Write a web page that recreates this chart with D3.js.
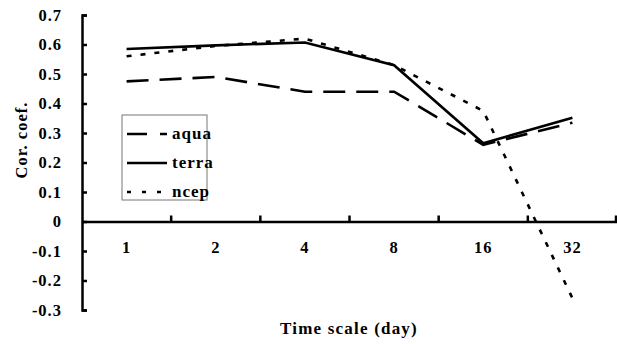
<!DOCTYPE html>
<html><head><meta charset="utf-8">
<script src="https://cdn.jsdelivr.net/npm/d3@7/dist/d3.min.js"></script>
<style>body{margin:0;background:#fff}svg{display:block}text{font-family:"Liberation Serif","Times New Roman",serif;font-weight:bold;fill:#000}</style>
</head><body><svg id="c" width="617" height="344"></svg>
<script>
const categories = ["1","2","4","8","16","32"];
const aqua  = [0.475, 0.49, 0.44, 0.44, 0.26, 0.335];
const terra = [0.585, 0.597, 0.607, 0.53, 0.265, 0.352];
const ncep  = [0.56, 0.595, 0.62, 0.53, 0.375, -0.26];
const yTicks = [0.7,0.6,0.5,0.4,0.3,0.2,0.1,0,-0.1,-0.2,-0.3];
const seriesNames = ["aqua","terra","ncep"];
const dashes = {aqua:"22,11", terra:null, ncep:"5,9"};

const svg = d3.select("#c");
const x = d3.scaleBand().domain(categories).range([82,617]).padding(0);
const y = d3.scaleLinear().domain([-0.3,0.7]).range([310,15]);
const fmt = d => d === 0 ? "0" : d3.format(".1f")(d).replace("\u2212","-");

// y axis
const ya = svg.append("g").attr("transform","translate(82,0)")
  .call(d3.axisRight(y).tickValues(yTicks).tickSize(5).tickFormat(fmt));
ya.attr("font-family",null).attr("font-size",null);
ya.select(".domain").attr("stroke","#000").attr("stroke-width",2.5);
ya.selectAll(".tick line").attr("stroke","#000").attr("stroke-width",2.5);
ya.selectAll(".tick text").attr("x",-20).attr("text-anchor","end").attr("font-size",16.5).attr("letter-spacing",1);

// x axis at y=0
const xa = svg.append("g").attr("transform",`translate(0,${y(0)})`)
  .call(d3.axisBottom(x).tickSize(0).tickPadding(0));
xa.attr("font-family",null).attr("font-size",null);
xa.select(".domain").attr("stroke","#000").attr("stroke-width",2.5);
xa.selectAll(".tick text").attr("y",26).attr("dy","0.32em").attr("font-size",16.5).attr("letter-spacing",1);
// upward tick marks at category boundaries
const bounds = categories.slice(1).map(c=>x(c)).concat([x.range()[1]-1]);
xa.selectAll(".bt").data(bounds).enter().append("line")
  .attr("x1",d=>d).attr("x2",d=>d).attr("y1",0).attr("y2",-6)
  .attr("stroke","#000").attr("stroke-width",2.5);

// lines
const line = d3.line().x((d,i)=>x(categories[i])+x.bandwidth()/2).y(d=>y(d));
const data = {aqua, terra, ncep};
seriesNames.forEach(n=>{
  svg.append("path").datum(data[n]).attr("d",line).attr("fill","none")
    .attr("stroke","#000").attr("stroke-width",2.6)
    .attr("stroke-dasharray",dashes[n]);
});

// legend
const lg = svg.append("g");
lg.append("rect").attr("x",122).attr("y",115).attr("width",85).attr("height",85)
  .attr("fill","#fff").attr("stroke","#777").attr("stroke-width",1);
const legDash = {aqua:"20,13", terra:null, ncep:"4,11"};
seriesNames.forEach((n,i)=>{
  const yy = 134 + i*29;
  lg.append("line").attr("x1",127).attr("x2",167).attr("y1",yy).attr("y2",yy)
    .attr("stroke","#000").attr("stroke-width",2.6).attr("stroke-dasharray",legDash[n]);
  lg.append("text").attr("x",172).attr("y",yy).attr("dy","0.32em").attr("font-size",17)
    .attr("letter-spacing",1).text(n);
});

// axis titles
svg.append("text").attr("transform","translate(27,140) rotate(-90)").attr("text-anchor","middle")
  .attr("font-size",16.5).attr("letter-spacing",1).text("Cor. coef.");
svg.append("text").attr("x",349).attr("y",334).attr("text-anchor","middle")
  .attr("font-size",17).attr("letter-spacing",1.2).text("Time scale (day)");
</script></body></html>
